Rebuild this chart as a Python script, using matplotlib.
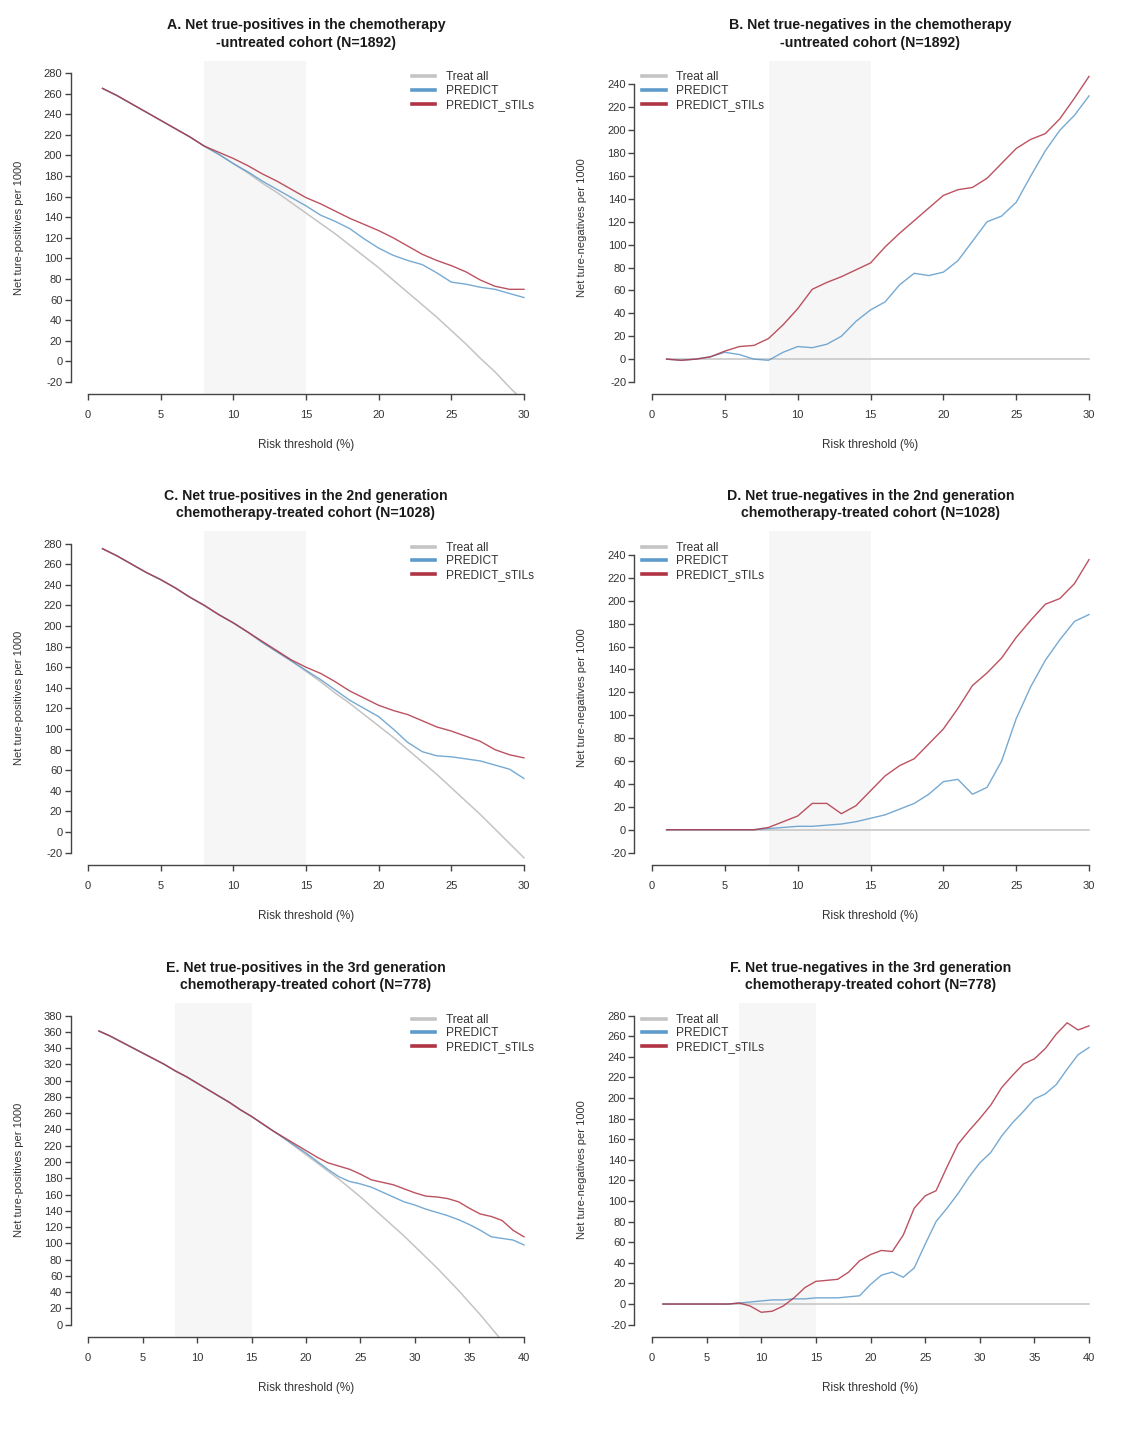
import matplotlib
matplotlib.use("Agg")
import matplotlib.pyplot as plt
from matplotlib.lines import Line2D

plt.rcParams["font.family"] = ["Liberation Sans", "DejaVu Sans"]
plt.rcParams["axes.unicode_minus"] = False

# risk thresholds (%)
thr_30 = list(range(1, 31))
thr_40 = list(range(1, 41))

# A. net true-positives, untreated cohort
a_treat = [265, 258, 250, 242, 234, 226, 218, 209, 201, 192, 183, 173, 164, 154, 144,
           134, 124, 113, 102, 91, 79, 67, 55, 43, 30, 17, 3, -10, -25, -39]
a_predict = [265, 258, 250, 242, 234, 226, 218, 209, 201, 192, 184, 175, 167, 159, 151,
             142, 136, 129, 119, 110, 103, 98, 94, 86, 77, 75, 72, 70, 66, 62]
a_stils = [265, 258, 250, 242, 234, 226, 218, 209, 203, 197, 190, 182, 175, 167, 159,
           153, 146, 139, 133, 127, 120, 112, 104, 98, 93, 87, 79, 73, 70, 70]

# B. net true-negatives, untreated cohort
b_treat = [0] * 30
b_predict = [0, -1, 0, 2, 6, 4, 0, -1, 6, 11, 10, 13, 20, 33, 43,
             50, 65, 75, 73, 76, 86, 103, 120, 125, 137, 160, 182, 200, 213, 230]
b_stils = [0, -1, 0, 2, 7, 11, 12, 18, 30, 44, 61, 67, 72, 78, 84,
           98, 110, 121, 132, 143, 148, 150, 158, 171, 184, 192, 197, 210, 228, 247]

# C. net true-positives, 2nd generation treated cohort
c_treat = [275, 268, 260, 252, 245, 237, 228, 220, 211, 203, 194, 184, 175, 166, 156,
           146, 135, 125, 114, 103, 92, 80, 68, 56, 43, 30, 17, 3, -11, -25]
c_predict = [275, 268, 260, 252, 245, 237, 228, 220, 211, 203, 194, 184, 175, 166, 157,
             148, 138, 128, 120, 112, 100, 87, 78, 74, 73, 71, 69, 65, 61, 52]
c_stils = [275, 268, 260, 252, 245, 237, 228, 220, 211, 203, 194, 185, 176, 167, 160,
           154, 146, 137, 130, 123, 118, 114, 108, 102, 98, 93, 88, 80, 75, 72]

# D. net true-negatives, 2nd generation treated cohort
d_treat = [0] * 30
d_predict = [0, 0, 0, 0, 0, 0, 0, 1, 2, 3, 3, 4, 5, 7, 10,
             13, 18, 23, 31, 42, 44, 31, 37, 60, 97, 125, 148, 166, 182, 188]
d_stils = [0, 0, 0, 0, 0, 0, 0, 2, 7, 12, 23, 23, 14, 21, 34,
           47, 56, 62, 75, 88, 106, 126, 137, 150, 168, 183, 197, 202, 215, 236]

# E. net true-positives, 3rd generation treated cohort
e_treat = [361, 355, 348, 341, 334, 327, 320, 312, 305, 297, 289, 281, 273, 264, 256,
           247, 238, 229, 219, 209, 199, 189, 179, 168, 157, 145, 133, 121, 109, 96,
           83, 70, 56, 42, 27, 12, -4, -20, -37, -54]
e_predict = [361, 355, 348, 341, 334, 327, 320, 312, 305, 297, 289, 281, 273, 264, 256,
             247, 238, 229, 220, 211, 201, 191, 182, 176, 173, 169, 163, 157, 151, 147,
             142, 138, 134, 129, 123, 116, 108, 106, 104, 98]
e_stils = [361, 355, 348, 341, 334, 327, 320, 312, 305, 297, 289, 281, 273, 264, 256,
           247, 238, 230, 222, 214, 206, 199, 195, 191, 185, 178, 175, 172, 167, 162,
           158, 157, 155, 151, 143, 136, 133, 128, 116, 108]

# F. net true-negatives, 3rd generation treated cohort
f_treat = [0] * 40
f_predict = [0, 0, 0, 0, 0, 0, 0, 1, 2, 3, 4, 4, 5, 5, 6,
             6, 6, 7, 8, 19, 28, 31, 26, 35, 58, 80, 93, 107, 123, 137,
             147, 163, 176, 187, 199, 204, 213, 228, 242, 249]
f_stils = [0, 0, 0, 0, 0, 0, 0, 1, -2, -8, -7, -2, 6, 16, 22,
           23, 24, 31, 42, 48, 52, 51, 67, 93, 105, 110, 133, 155, 168, 180,
           193, 210, 222, 233, 238, 248, 262, 273, 266, 270]

GRAY = "#c4c4c4"
BLUE = "#5e9bcb"
RED = "#b03444"
SHADE = "#f6f6f7"
AXC = "#444444"

W, H = 1141, 1453


def draw_panel(rect, x, treat, predict, stils, xmax, ylo, yhi, ytop, title, ylabel, loc):
    fig = plt.gcf()
    ax = fig.add_axes(rect)
    xpad = 0.04 * xmax
    ypad = 0.04 * (yhi - ylo)
    ax.set_xlim(-xpad, xmax + xpad)
    ax.set_ylim(ylo - ypad, yhi + ypad)
    ax.axvspan(8, 15, color=SHADE, lw=0, zorder=0)

    ax.plot(x, treat, color=GRAY, lw=1.1, zorder=2)
    ax.plot(x, predict, color=BLUE, lw=1.0, alpha=0.85, zorder=3)
    ax.plot(x, stils, color=RED, lw=1.0, alpha=0.85, zorder=4)

    for s in ["top", "right"]:
        ax.spines[s].set_visible(False)
    ax.spines["left"].set_bounds(ylo, ytop)
    ax.spines["bottom"].set_bounds(0, xmax)
    for s in ["left", "bottom"]:
        ax.spines[s].set_color(AXC)
        ax.spines[s].set_linewidth(1.0)

    ax.set_xticks(list(range(0, xmax + 1, 5)))
    ax.set_yticks(list(range(ylo, ytop + 1, 20)))
    ax.tick_params(axis="both", colors=AXC, labelcolor="#333333", labelsize=8,
                   length=4.5, width=1.0)
    ax.tick_params(axis="y", pad=1.5)
    ax.tick_params(axis="x", pad=7)

    ax.set_xlabel("Risk threshold (%)", fontsize=8.5, color="#333333")
    ax.xaxis.set_label_coords(0.5, -0.135)
    ax.set_ylabel(ylabel, fontsize=8, color="#333333")
    ax.yaxis.set_label_coords(-0.1, 0.5)

    ax.set_title(title, fontsize=10.2, fontweight="bold", color="#1a1a1a",
                 pad=10, linespacing=1.3)

    handles = [Line2D([], [], color=GRAY, lw=2.6),
               Line2D([], [], color=BLUE, lw=2.6),
               Line2D([], [], color=RED, lw=2.6)]
    if loc == "right":
        leg = ax.legend(handles, ["Treat all", "PREDICT", "PREDICT_sTILs"],
                        loc="upper right", bbox_to_anchor=(1.0, 0.99),
                        frameon=False, fontsize=8.6, handlelength=2.0,
                        handletextpad=0.9, labelspacing=0.15, borderaxespad=0.2)
    else:
        leg = ax.legend(handles, ["Treat all", "PREDICT", "PREDICT_sTILs"],
                        loc="upper left", bbox_to_anchor=(0.0, 0.99),
                        frameon=False, fontsize=8.6, handlelength=2.0,
                        handletextpad=0.9, labelspacing=0.15, borderaxespad=0.2)
    for t in leg.get_texts():
        t.set_color("#333333")
    return ax


fig = plt.figure(figsize=(W / 100, H / 100), dpi=100)

lx, lw_ = 70.6 / W, 470.8 / W
rx, rw_ = 634.5 / W, 472.0 / W
ph = 333.8 / H
rows = [1 - 394.4 / H, 1 - 865.0 / H, 1 - 1337.0 / H]

ylab_p = "Net ture-positives per 1000"
ylab_n = "Net ture-negatives per 1000"

draw_panel([lx, rows[0], lw_, ph], thr_30, a_treat, a_predict, a_stils, 30, -20, 280, 280,
           "A. Net true-positives in the chemotherapy\n-untreated cohort (N=1892)",
           ylab_p, "right")
draw_panel([rx, rows[0], rw_, ph], thr_30, b_treat, b_predict, b_stils, 30, -20, 250, 240,
           "B. Net true-negatives in the chemotherapy\n-untreated cohort (N=1892)",
           ylab_n, "left")
draw_panel([lx, rows[1], lw_, ph], thr_30, c_treat, c_predict, c_stils, 30, -20, 280, 280,
           "C. Net true-positives in the 2nd generation\nchemotherapy-treated cohort (N=1028)",
           ylab_p, "right")
draw_panel([rx, rows[1], rw_, ph], thr_30, d_treat, d_predict, d_stils, 30, -20, 250, 240,
           "D. Net true-negatives in the 2nd generation\nchemotherapy-treated cohort (N=1028)",
           ylab_n, "left")
draw_panel([lx, rows[2], lw_, ph], thr_40, e_treat, e_predict, e_stils, 40, 0, 380, 380,
           "E. Net true-positives in the 3rd generation\nchemotherapy-treated cohort (N=778)",
           ylab_p, "right")
draw_panel([rx, rows[2], rw_, ph], thr_40, f_treat, f_predict, f_stils, 40, -20, 280, 280,
           "F. Net true-negatives in the 3rd generation\nchemotherapy-treated cohort (N=778)",
           ylab_n, "left")

fig.savefig("out.png", dpi=100)
